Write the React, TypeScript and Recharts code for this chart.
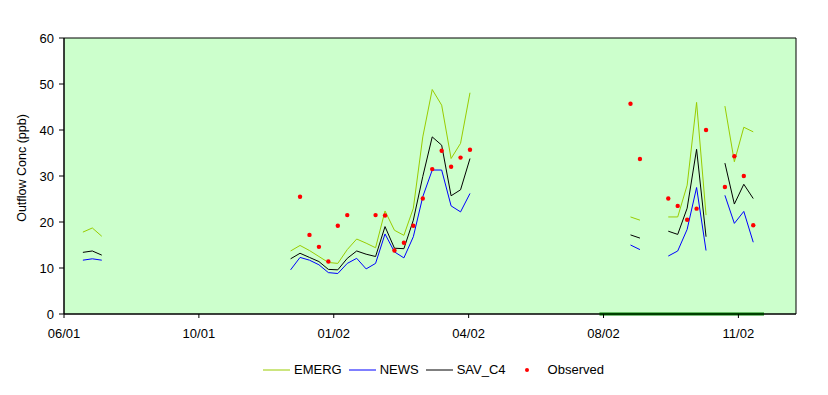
import React from "react";
import {
  LineChart,
  Line,
  XAxis,
  YAxis,
  Legend,
  ReferenceArea,
} from "recharts";

// days since the first axis tick (06/01), sampled weekly
const days = [
  14, 21, 28,
  168, 175, 182, 189, 196, 203, 210, 217, 224, 231, 238, 245, 252, 259, 266, 273, 280, 287, 294, 301,
  420, 427,
  448, 455, 462, 469, 476,
  490, 497, 504, 511,
];

const emerg = [
  17.8, 18.7, 16.9,
  13.7, 14.9, 13.8, 12.5, 11.2, 11.0, 14.0, 16.3, 15.4, 14.4, 22.4, 18.2, 17.1, 23.0, 38.5, 48.8, 45.4, 33.8, 37.1, 48.1,
  21.1, 20.4,
  21.1, 21.1, 28.0, 46.0, 21.5,
  45.2, 33.1, 40.6, 39.6,
];

const news = [
  11.7, 12.0, 11.7,
  9.6, 12.3, 11.7, 10.7, 9.0, 8.8, 11.0, 12.1, 9.8, 11.0, 17.4, 13.5, 12.2, 16.8, 25.5, 31.3, 31.3, 23.5, 22.2, 26.2,
  15.0, 14.0,
  12.6, 13.7, 18.4, 27.5, 13.8,
  25.8, 19.7, 22.3, 15.6,
];

const savC4 = [
  13.4, 13.7, 12.8,
  12.0, 13.2, 12.3, 11.4, 9.7, 9.6, 12.1, 13.7, 13.0, 12.5, 19.0, 14.3, 14.2, 20.4, 29.9, 38.5, 36.7, 25.7, 27.0, 33.8,
  17.2, 16.5,
  18.0, 17.3, 23.0, 35.8, 16.8,
  32.8, 23.9, 28.2, 25.1,
];

const observed = [
  null, null, null,
  null, 25.5, 17.2, 14.6, 11.4, 19.2, 21.5, null, null, 21.5, 21.4, 13.8, 15.5, 19.2, 25.1, 31.5, 35.5, 32.0, 34.0, 35.7,
  45.7, 33.7,
  25.1, 23.5, 20.5, 22.9, 40.0,
  27.6, 34.3, 30.0, 19.3,
];

const tickDays = [0, 100, 200, 300, 400, 500];
const tickLabels = ["06/01", "10/01", "01/02", "04/02", "08/02", "11/02"];
const yTicks = [0, 10, 20, 30, 40, 50, 60];

// dark green bar along the axis
const periodStart = 397;
const periodEnd = 519;

const X_MAX = 542.7;

// build rows, with an empty row wherever the weekly run breaks
const rows: any[] = [];
days.forEach((d, i) => {
  if (i > 0 && d - days[i - 1] > 7) {
    rows.push({ day: (d + days[i - 1]) / 2, EMERG: null, NEWS: null, SAV_C4: null, Observed: null });
  }
  rows.push({ day: d, EMERG: emerg[i], NEWS: news[i], SAV_C4: savC4[i], Observed: observed[i] });
});

const periodRows = [
  { day: periodStart, v: 0 },
  { day: periodEnd, v: 0 },
];

const font = "'Liberation Sans', Arial, sans-serif";

const legendItems = [
  { name: "EMERG", color: "#99CC00", dot: false },
  { name: "NEWS", color: "#0000FF", dot: false },
  { name: "SAV_C4", color: "#000000", dot: false },
  { name: "Observed", color: "#FF0000", dot: true },
];

function ChartLegend() {
  return (
    <div style={{ display: "flex", alignItems: "center", fontFamily: font, fontSize: 13, color: "#000" }}>
      {legendItems.map((it) => (
        <div key={it.name} style={{ display: "flex", alignItems: "center", marginRight: it.dot ? 0 : 7 }}>
          <svg width={it.dot ? 31 : 27} height={10}>
            {it.dot ? (
              <circle cx={14} cy={5} r={2} fill={it.color} />
            ) : (
              <line x1={0} x2={27} y1={5} y2={5} stroke={it.color} strokeWidth={1} />
            )}
          </svg>
          <span style={{ marginLeft: it.dot ? 4 : 4 }}>{it.name}</span>
        </div>
      ))}
    </div>
  );
}

export default function App() {
  return (
    <div style={{ position: "absolute", left: 0, top: 0 }}>
      <LineChart
        width={828}
        height={395}
        data={rows}
        margin={{ top: 38, right: 32, left: 0, bottom: 51 }}
      >
        <ReferenceArea
          x1={0}
          x2={X_MAX}
          y1={0}
          y2={60}
          fill="#CCFFCC"
          fillOpacity={1}
          stroke="#000"
          strokeWidth={1}
        />
        <XAxis
          dataKey="day"
          type="number"
          domain={[0, X_MAX]}
          ticks={tickDays}
          tickFormatter={(v) => tickLabels[tickDays.indexOf(v)] ?? ""}
          height={30}
          tickSize={4}
          tickMargin={11}
          stroke="#000"
          tick={{ fontSize: 13, fill: "#000", fontFamily: font }}
        />
        <YAxis
          domain={[0, 60]}
          ticks={yTicks}
          width={64}
          tickSize={5}
          tickMargin={5}
          stroke="#000"
          tick={{ fontSize: 13, fill: "#000", fontFamily: font }}
          label={() => (
            <text
              x={22}
              y={168}
              transform="rotate(-90 22 168)"
              textAnchor="middle"
              dominantBaseline="central"
              fontSize={12.5}
              fontFamily={font}
              fill="#000"
            >
              Outflow Conc (ppb)
            </text>
          )}
        />
        <Line
          data={periodRows}
          dataKey="v"
          stroke="#008000"
          strokeWidth={3}
          dot={false}
          legendType="none"
          isAnimationActive={false}
        />
        <Line dataKey="EMERG" stroke="#99CC00" strokeWidth={1} dot={false} isAnimationActive={false} />
        <Line dataKey="SAV_C4" stroke="#000000" strokeWidth={1} dot={false} isAnimationActive={false} />
        <Line dataKey="NEWS" stroke="#0000FF" strokeWidth={1} dot={false} isAnimationActive={false} />
        <Line
          dataKey="Observed"
          stroke="none"
          dot={{ r: 2.2, fill: "#FF0000", stroke: "none" }}
          isAnimationActive={false}
        />
        <Legend
          layout="horizontal"
          verticalAlign="middle"
          align="center"
          content={() => <ChartLegend />}
          wrapperStyle={{ top: 362, left: 263, width: 360 }}
        />
      </LineChart>
    </div>
  );
}
